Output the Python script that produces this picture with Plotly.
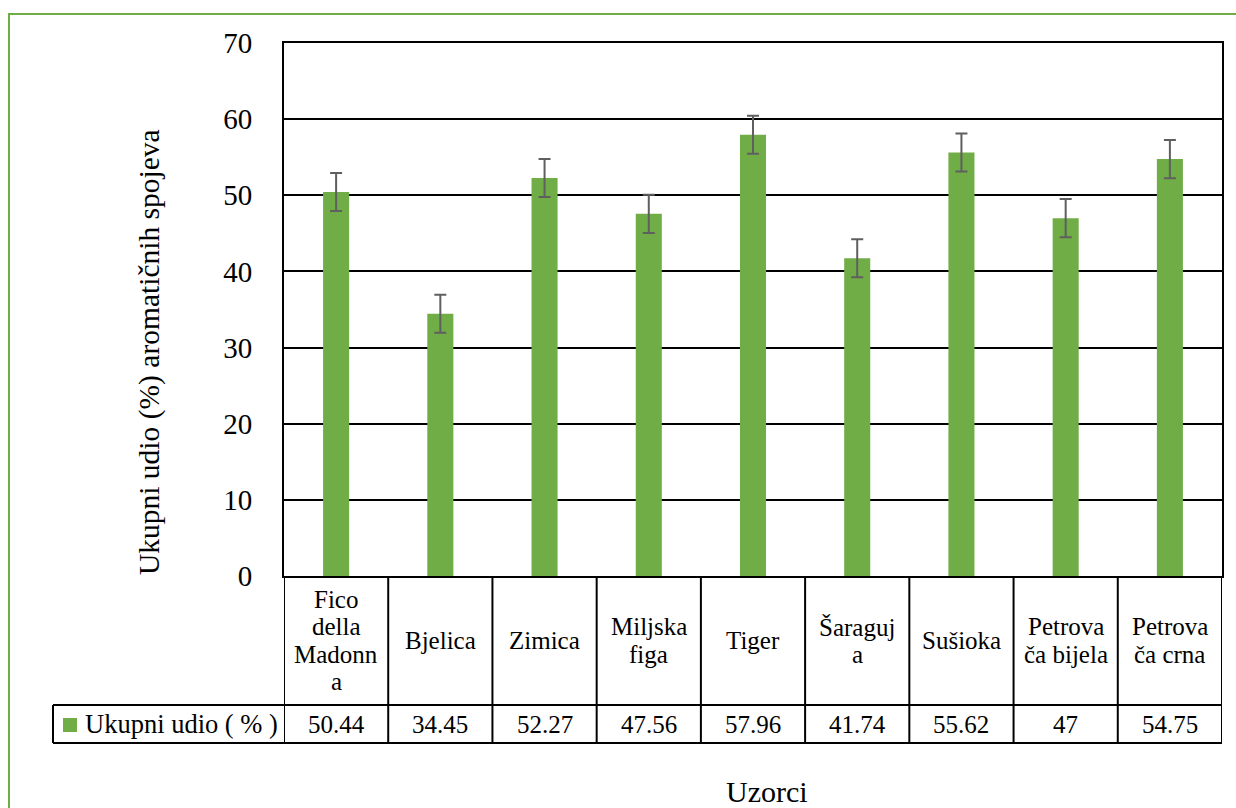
import plotly.graph_objects as go

categories = ["Fico<br>della<br>Madonn<br>a", "Bjelica", "Zimica", "Miljska<br>figa", "Tiger",
              "Šaraguj<br>a", "Sušioka", "Petrova<br>ča bijela", "Petrova<br>ča crna"]
values = [50.44, 34.45, 52.27, 47.56, 57.96, 41.74, 55.62, 47, 54.75]
value_labels = ["50.44", "34.45", "52.27", "47.56", "57.96", "41.74", "55.62", "47", "54.75"]
errors = [2.5, 2.5, 2.5, 2.5, 2.5, 2.5, 2.5, 2.5, 2.5]
series_name = "Ukupni udio ( % )"
y_title = "Ukupni udio (%) aromatičnih spojeva"
x_title = "Uzorci"
y_ticks = [0, 10, 20, 30, 40, 50, 60, 70]

GREEN = "#70AD47"
FONT = "'Liberation Serif', 'Times New Roman', 'DejaVu Serif', serif"

W, H = 1236, 808
L, R, T, B = 284, 14, 43, 232
PW = W - L - R
PH = H - T - B

def py(pix):  # pixel y -> paper y
    return (H - B - pix) / PH

def px(pix):
    return (pix - L) / PW

n = len(categories)
xs = list(range(n))

fig = go.Figure()
fig.add_trace(go.Bar(
    x=xs, y=values, width=0.25, marker=dict(color=GREEN, line=dict(width=0)),
    error_y=dict(type="data", array=errors, visible=True, color="#5F5F5F", thickness=2, width=6),
    name=series_name, showlegend=False,
))

shapes = []
line = dict(color="black", width=2)
y_top_row = 0
y_mid = py(705)
y_bot = py(743)
for i in range(n + 1):
    shapes.append(dict(type="line", xref="x", yref="paper", x0=i - 0.5, x1=i - 0.5,
                       y0=y_bot, y1=y_top_row, line=line))
shapes.append(dict(type="line", xref="paper", yref="paper", x0=px(53), x1=1,
                   y0=y_mid, y1=y_mid, line=line))
shapes.append(dict(type="line", xref="paper", yref="paper", x0=px(53), x1=1,
                   y0=y_bot, y1=y_bot, line=line))
shapes.append(dict(type="line", xref="paper", yref="paper", x0=px(53), x1=px(53),
                   y0=y_bot, y1=y_mid, line=line))
shapes.append(dict(type="rect", xref="paper", yref="paper", x0=px(63), x1=px(77),
                   y0=py(732), y1=py(718), fillcolor=GREEN, line=dict(width=0)))
shapes.append(dict(type="rect", xref="paper", yref="paper", x0=px(9), x1=px(1250),
                   y0=py(830), y1=py(14), line=dict(color=GREEN, width=2), layer="below"))

annotations = []
row_center = (576 + 705) / 2
lh = 27.5
TXT = dict(family=FONT, size=25, color="black")
for i, cat in enumerate(categories):
    parts = cat.split("<br>")
    m = len(parts)
    for j, p in enumerate(parts):
        yc = row_center + (j - (m - 1) / 2) * lh
        annotations.append(dict(x=i, y=py(yc), xref="x", yref="paper", text=p, showarrow=False,
                                xanchor="center", yanchor="middle", font=TXT))
    annotations.append(dict(x=i, y=py(724), xref="x", yref="paper", text=value_labels[i],
                            showarrow=False, xanchor="center", yanchor="middle", font=TXT))
annotations.append(dict(x=px(83), y=py(724), xref="paper", yref="paper", text=series_name,
                        showarrow=False, xanchor="left", yanchor="middle",
                        font=dict(family=FONT, size=26.5, color="black")))
annotations.append(dict(x=px(767), y=py(792), xref="paper", yref="paper", text=x_title,
                        showarrow=False, xanchor="center", yanchor="middle",
                        font=dict(family=FONT, size=30, color="black")))
annotations.append(dict(x=px(150), y=py(352), xref="paper", yref="paper", text=y_title,
                        showarrow=False, xanchor="center", yanchor="middle", textangle=-90,
                        font=dict(family=FONT, size=29.5, color="black")))

fig.update_layout(
    width=W, height=H, margin=dict(l=L, r=R, t=T, b=B, autoexpand=False),
    paper_bgcolor="white", plot_bgcolor="white",
    shapes=shapes, annotations=annotations, showlegend=False,
    xaxis=dict(range=[-0.5, n - 0.5], showticklabels=False, ticks="", showgrid=False,
               showline=True, linecolor="black", linewidth=2, mirror=True, zeroline=False,
               fixedrange=True),
    yaxis=dict(range=[0, 70], tickvals=y_ticks, ticktext=[str(v) for v in y_ticks],
               showgrid=True, gridcolor="black", gridwidth=1.5, showline=True,
               linecolor="black", linewidth=2, mirror=True, zeroline=False, ticks="",
               ticklabelstandoff=24, tickfont=dict(family=FONT, size=29, color="black"),
               fixedrange=True),
)

fig.write_html("out.html", config={"displayModeBar": False},
               post_script="document.body.style.margin='0px';document.body.style.overflow='hidden';")
